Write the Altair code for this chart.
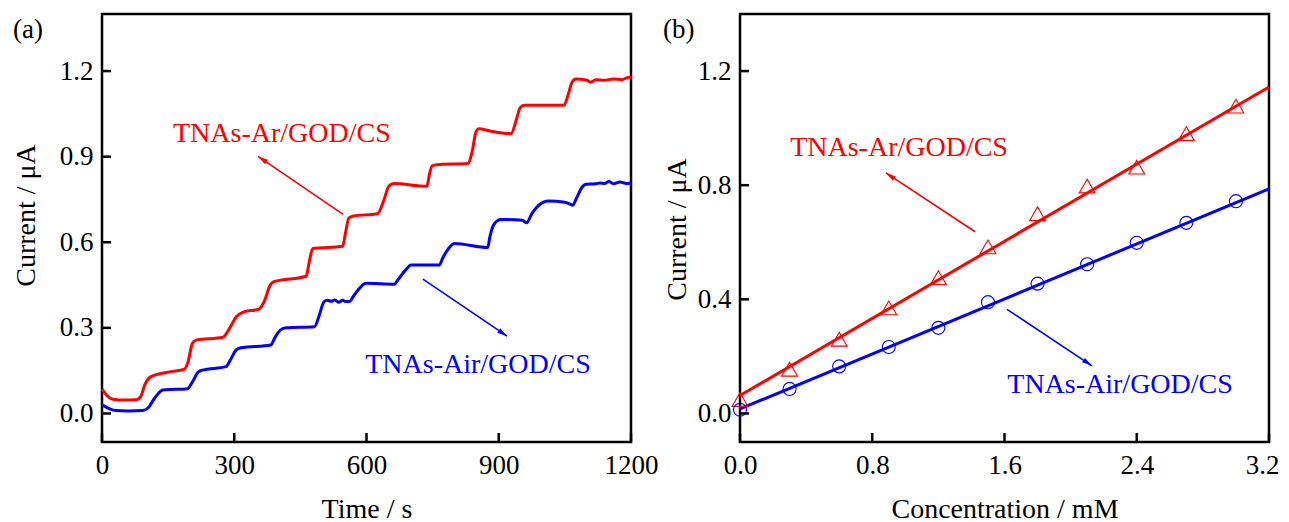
import altair as alt
import pandas as pd

# ---------------- Panel (a): current vs time ----------------
time_ar = [0, 10, 25, 50, 77, 88, 97, 111, 150, 187, 195, 205, 213, 274, 290, 305, 320, 356,
           370, 380, 390, 463, 470, 478, 546, 552, 560, 570, 625, 640, 650, 662, 737, 743,
           749, 760, 830, 840, 848, 855, 880, 928, 940, 948, 958, 1048, 1058, 1066, 1075,
           1100, 1109, 1120, 1140, 1160, 1180, 1190, 1200]
cur_ar = [0.085, 0.065, 0.050, 0.047, 0.048, 0.060, 0.100, 0.129, 0.145, 0.155, 0.180, 0.245,
          0.257, 0.267, 0.300, 0.340, 0.355, 0.366, 0.400, 0.445, 0.462, 0.481, 0.530, 0.578,
          0.586, 0.630, 0.685, 0.692, 0.700, 0.750, 0.795, 0.806, 0.796, 0.840, 0.868, 0.872,
          0.876, 0.920, 0.985, 0.998, 0.990, 0.981, 1.030, 1.070, 1.080, 1.080, 1.120, 1.160,
          1.172, 1.168, 1.161, 1.170, 1.168, 1.172, 1.170, 1.176, 1.178]

time_air = [0, 15, 32, 60, 92, 105, 120, 138, 194, 205, 218, 228, 281, 292, 304, 315, 383,
            392, 405, 418, 482, 492, 503, 510, 520, 528, 537, 546, 552, 561, 570, 585, 599,
            663, 672, 690, 701, 765, 773, 790, 799, 875, 880, 890, 905, 954, 963, 975, 995,
            1011, 1050, 1060, 1068, 1075, 1090, 1098, 1120, 1130, 1140, 1150, 1160, 1175,
            1190, 1200]
cur_air = [0.030, 0.018, 0.010, 0.009, 0.010, 0.020, 0.055, 0.082, 0.087, 0.110, 0.145, 0.152,
           0.164, 0.190, 0.222, 0.230, 0.240, 0.265, 0.293, 0.300, 0.304, 0.340, 0.390, 0.397,
           0.393, 0.398, 0.390, 0.397, 0.392, 0.392, 0.410, 0.440, 0.456, 0.453, 0.470, 0.505,
           0.520, 0.520, 0.545, 0.585, 0.596, 0.582, 0.620, 0.665, 0.680, 0.677, 0.668, 0.700,
           0.735, 0.745, 0.740, 0.735, 0.730, 0.750, 0.795, 0.803, 0.805, 0.808, 0.806, 0.813,
           0.805, 0.811, 0.806, 0.808]

# ---------------- Panel (b): current vs concentration ----------------
conc = [0.0, 0.3, 0.6, 0.9, 1.2, 1.5, 1.8, 2.1, 2.4, 2.7, 3.0]
pts_ar = [0.049, 0.155, 0.260, 0.370, 0.476, 0.584, 0.700, 0.797, 0.863, 0.981, 1.077]
pts_air = [0.013, 0.086, 0.165, 0.233, 0.300, 0.390, 0.455, 0.523, 0.598, 0.668, 0.744]
fit_conc = [0.0, 3.2]
fit_ar = [0.063, 1.144]
fit_air = [0.016, 0.787]

series_names = ["TNAs-Ar/GOD/CS", "TNAs-Air/GOD/CS"]
series_colors = ["#FF0000", "#0000FF"]
panel_labels = ["(a)", "(b)"]

# annotation anchors (data coordinates)
a_text_x = [408, 853]
a_text_y = [0.950, 0.142]
a_arrow_x0 = [547, 728]
a_arrow_y0 = [0.698, 0.471]
a_arrow_x1 = [354, 919]
a_arrow_y1 = [0.901, 0.271]
a_arrow_angle = [304, 124]

b_text_x = [0.962, 2.299]
b_text_y = [0.904, 0.070]
b_arrow_x0 = [1.422, 1.615]
b_arrow_y0 = [0.637, 0.365]
b_arrow_x1 = [0.883, 2.129]
b_arrow_y1 = [0.843, 0.167]
b_arrow_angle = [304, 124]

a_xticks = [0, 300, 600, 900, 1200]
a_yticks = [0.0, 0.3, 0.6, 0.9, 1.2]
b_xticks = [0.0, 0.8, 1.6, 2.4, 3.2]
b_yticks = [0.0, 0.4, 0.8, 1.2]

W, H = 529, 428
FONT = "Liberation Serif"
TICK = 9
ARROW = "M0,0L-0.42,1.6L0.42,1.6Z"

color = alt.Color("series:N", scale=alt.Scale(domain=series_names, range=series_colors), legend=None)


def annotations(xs, ys, x0, y0, x1, y1, ang, X, Y):
    tdf = pd.DataFrame({"x": xs, "y": ys, "series": series_names})
    adf = pd.DataFrame({"x0": x0, "y0": y0, "x1": x1, "y1": y1, "ang": ang, "series": series_names})
    txt = alt.Chart(tdf).mark_text(font=FONT, fontSize=28, align="center", baseline="alphabetic").encode(
        x=X("x:Q"), y=Y("y:Q"), text="series:N", color=color)
    rule = alt.Chart(adf).mark_rule(strokeWidth=1.6).encode(
        x=X("x0:Q"), y=Y("y0:Q"), x2="x1:Q", y2="y1:Q", color=color)
    head = alt.Chart(adf).mark_point(shape=ARROW, size=160, filled=True, opacity=1, strokeWidth=0).encode(
        x=X("x1:Q"), y=Y("y1:Q"), angle=alt.Angle("ang:Q", scale=None), color=color)
    return [rule, head, txt]


def inner_ticks(xt, yt, X, Y):
    yr = alt.Chart(pd.DataFrame({"v": yt})).mark_rule(color="black", strokeWidth=2.5).encode(
        y=Y("v:Q"), x=alt.value(0), x2=alt.value(TICK))
    xr = alt.Chart(pd.DataFrame({"v": xt})).mark_rule(color="black", strokeWidth=2.5).encode(
        x=X("v:Q"), y=alt.value(H), y2=alt.value(H - TICK))
    return [yr, xr]


def panel_label(lab, xpos):
    return alt.Chart(pd.DataFrame({"lab": [lab]})).mark_text(
        font=FONT, fontSize=27, align="left", baseline="alphabetic", color="black").encode(
        x=alt.value(xpos), y=alt.value(24), text="lab:N")


def make_x(scale, axis):
    return lambda f: alt.X(f, scale=scale, axis=axis)


def make_y(scale, axis):
    return lambda f: alt.Y(f, scale=scale, axis=axis)


# ----- left panel -----
XA = make_x(alt.Scale(domain=[0, 1200], nice=False, zero=False),
            alt.Axis(values=a_xticks, format="d", title="Time / s", titleX=W / 2, titleY=75))
YA = make_y(alt.Scale(domain=[-0.1, 1.4], nice=False, zero=False),
            alt.Axis(values=a_yticks, format=".1f", title="Current / μA", titleX=-68, titleY=201))
df_a = pd.DataFrame({
    "t": time_ar + time_air,
    "i": cur_ar + cur_air,
    "series": [series_names[0]] * len(time_ar) + [series_names[1]] * len(time_air),
})
lines_a = alt.Chart(df_a).mark_line(strokeWidth=3, interpolate="monotone").encode(
    x=XA("t:Q"), y=YA("i:Q"), color=color)

left = alt.layer(
    lines_a,
    *annotations(a_text_x, a_text_y, a_arrow_x0, a_arrow_y0, a_arrow_x1, a_arrow_y1, a_arrow_angle, XA, YA),
    *inner_ticks(a_xticks, a_yticks, XA, YA),
    panel_label(panel_labels[0], -89),
).properties(width=W, height=H)

# ----- right panel -----
last_b = "datum.value >= 3.19"
XB = make_x(alt.Scale(domain=[0, 3.2], nice=False, zero=False),
            alt.Axis(values=b_xticks, format=".1f", title="Concentration / mM", titleX=W / 2, titleY=75,
                     labelAlign={"condition": {"test": last_b, "value": "right"}, "value": "center"},
                     labelOffset={"condition": {"test": last_b, "value": 10}, "value": 0}))
YB = make_y(alt.Scale(domain=[-0.1, 1.4], nice=False, zero=False),
            alt.Axis(values=b_yticks, format=".1f", title="Current / μA", titleX=-55, titleY=215))
df_fit = pd.DataFrame({
    "c": fit_conc + fit_conc,
    "i": fit_ar + fit_air,
    "series": [series_names[0]] * 2 + [series_names[1]] * 2,
})
fit_lines = alt.Chart(df_fit).mark_line(strokeWidth=3).encode(
    x=XB("c:Q"), y=YB("i:Q"), color=color)
tri = alt.Chart(pd.DataFrame({"c": conc, "i": pts_ar})).mark_point(
    shape="triangle-up", size=250, filled=False, strokeWidth=1.1, color=series_colors[0], opacity=1).encode(
    x=XB("c:Q"), y=YB("i:Q"))
circ = alt.Chart(pd.DataFrame({"c": conc, "i": pts_air})).mark_point(
    shape="circle", size=170, filled=False, strokeWidth=1.1, color=series_colors[1], opacity=1).encode(
    x=XB("c:Q"), y=YB("i:Q"))

right = alt.layer(
    fit_lines, tri, circ,
    *annotations(b_text_x, b_text_y, b_arrow_x0, b_arrow_y0, b_arrow_x1, b_arrow_y1, b_arrow_angle, XB, YB),
    *inner_ticks(b_xticks, b_yticks, XB, YB),
    panel_label(panel_labels[1], -77),
).properties(width=W, height=H)

chart = alt.hconcat(left, right, spacing=109, bounds="flush").properties(
    padding={"left": 2, "top": 4, "right": 0, "bottom": 0},
    background="white",
).configure_view(
    stroke="black", strokeWidth=2.5
).configure_axis(
    labelFont=FONT, labelFontSize=27, labelColor="black",
    titleFont=FONT, titleFontSize=28, titleFontWeight="normal", titleColor="black",
    grid=False, domain=False, ticks=False, tickSize=0, labelPadding=9,
    labelFlush=False, labelOverlap=False,
).configure_axisLeft(
    titleAngle=270, titleAlign="center", titleBaseline="alphabetic"
).configure_axisBottom(
    titleAlign="center", titleBaseline="alphabetic", labelPadding=10
)

chart.save("out.html", embed_options={"renderer": "svg", "actions": False})
